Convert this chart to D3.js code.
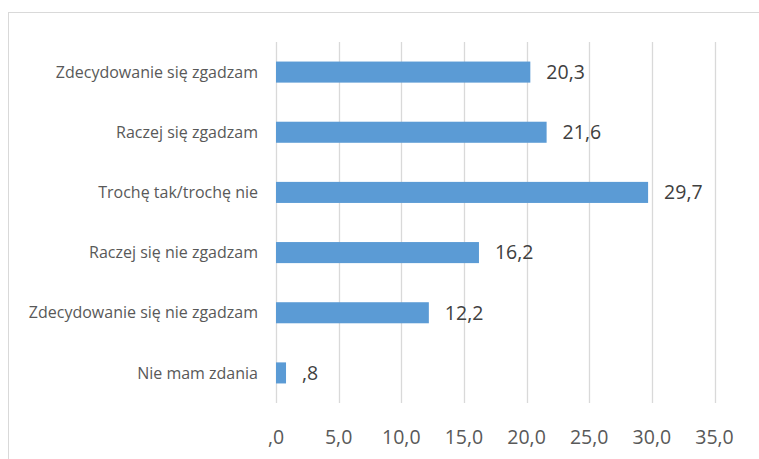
<!DOCTYPE html>
<html><head><meta charset="utf-8">
<script src="https://cdn.jsdelivr.net/npm/d3@7"></script>
<style>body{margin:0;background:#fff}svg{display:block}</style>
</head><body>
<svg id="c" width="759" height="459"></svg>
<script>
const categories = ["Zdecydowanie się zgadzam","Raczej się zgadzam","Trochę tak/trochę nie","Raczej się nie zgadzam","Zdecydowanie się nie zgadzam","Nie mam zdania"];
const values = [20.3, 21.6, 29.7, 16.2, 12.2, 0.8];
const ticks = [0,5,10,15,20,25,30,35];

const fmt = v => { let s = v.toFixed(1).replace(".", ","); if (s.startsWith("0")) s = s.slice(1); return s; };

const svg = d3.select("#c");
svg.append("rect").attr("x",8.5).attr("y",12.5).attr("width",780).attr("height",480)
  .attr("fill","none").attr("stroke","#d9d9d9");

const x = d3.scaleLinear().domain([0,35]).range([276,714.5]);
const y = d3.scaleBand().domain(categories).range([42,403]).paddingInner(0.65).paddingOuter(0.325);

const g = svg.append("g");
g.selectAll("line.grid").data(ticks).join("line").attr("class","grid")
  .attr("x1",d=>Math.round(x(d))+0.5).attr("x2",d=>Math.round(x(d))+0.5)
  .attr("y1",42).attr("y2",403).attr("stroke","#d9d9d9").attr("stroke-width",1.3);

g.selectAll("rect.bar").data(values).join("rect").attr("class","bar")
  .attr("x",x(0)).attr("y",(d,i)=>y(categories[i]))
  .attr("width",d=>x(d)-x(0)).attr("height",y.bandwidth()).attr("fill","#5b9bd5");

g.selectAll("text.val").data(values).join("text").attr("class","val")
  .attr("x",d=>x(d)+16).attr("y",(d,i)=>y(categories[i])+y.bandwidth()/2)
  .attr("dy","0.35em").attr("font-family","Open Sans").attr("font-size",19.5)
  .attr("fill","#404040").text(fmt);

g.selectAll("text.cat").data(categories).join("text").attr("class","cat")
  .attr("x",258).attr("y",d=>y(d)+y.bandwidth()/2).attr("dy","0.35em")
  .attr("text-anchor","end").attr("font-family","Open Sans").attr("font-size",16)
  .attr("fill","#595959").text(d=>d);

g.selectAll("text.tick").data(ticks).join("text").attr("class","tick")
  .attr("x",d=>x(d)).attr("y",437).attr("dy","0.35em").attr("text-anchor","middle")
  .attr("font-family","Open Sans").attr("font-size",19.5).attr("fill","#595959").text(fmt);
</script>
</body></html>
